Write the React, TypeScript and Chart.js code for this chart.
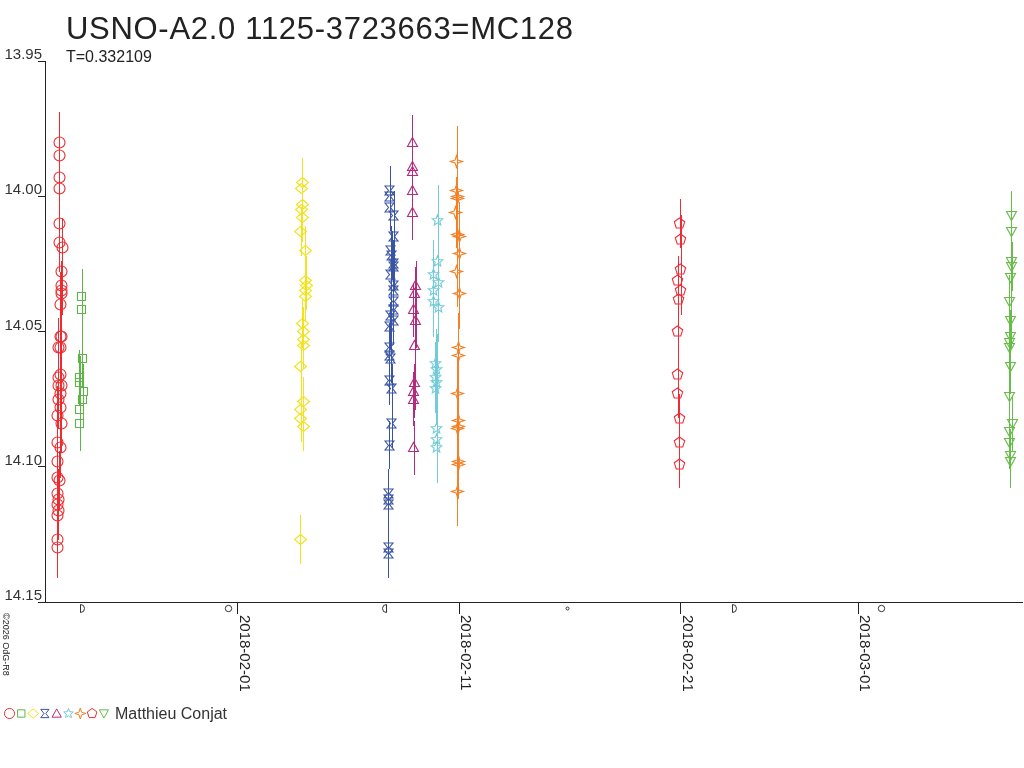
import React, { useEffect, useRef } from "react";
import { Chart, registerables } from "chart.js";

Chart.register(...registerables);

const TITLE = "USNO-A2.0 1125-3723663=MC128";
const SUBTITLE = "T=0.332109";
const OBSERVER = "Matthieu Conjat";
const COPYRIGHT = "©2026 OdG-R8";

// x values: days since 2018-01-01 00:00 UT (Feb 1 = 31)
const X_MIN = 22.284;
const X_MAX = 66.406;
const X_TICK_DAYS = [31, 41, 51, 59];
const X_TICK_LABELS = ["2018-02-01", "2018-02-11", "2018-02-21", "2018-03-01"];
const Y_MIN = 13.95;
const Y_MAX = 14.15;
const Y_TICKS = [13.95, 14.0, 14.05, 14.1, 14.15];

const MOON_DAYS = [23.93, 30.56, 37.66, 45.88, 53.34, 60.04];
const MOON_PHASES = ["first", "full", "last", "new", "first", "full"];

// [day, magnitude, error]
const redCircles: number[][] = [
  [22.932, 13.98, 0.011], [22.932, 13.985, 0.011], [22.932, 13.993, 0.011], [22.932, 13.997, 0.011],
  [22.932, 14.01, 0.011], [22.932, 14.017, 0.011], [23.068, 14.019, 0.011], [23.05, 14.028, 0.012],
  [23.05, 14.033, 0.011], [23.009, 14.035, 0.011], [23.009, 14.036, 0.011], [22.964, 14.04, 0.012],
  [22.964, 14.052, 0.011], [23.009, 14.052, 0.011], [22.874, 14.056, 0.011], [22.964, 14.056, 0.012],
  [22.964, 14.066, 0.011], [22.874, 14.067, 0.011], [23.009, 14.07, 0.012], [22.874, 14.07, 0.011],
  [22.964, 14.073, 0.011], [22.874, 14.075, 0.011], [22.964, 14.078, 0.011], [22.828, 14.081, 0.011],
  [23.009, 14.084, 0.011], [22.828, 14.091, 0.011], [22.964, 14.093, 0.011], [22.828, 14.098, 0.011],
  [22.828, 14.104, 0.011], [22.932, 14.105, 0.011], [22.828, 14.11, 0.011], [22.874, 14.112, 0.011],
  [22.828, 14.114, 0.011], [22.874, 14.116, 0.011], [22.828, 14.118, 0.011], [22.828, 14.127, 0.011],
  [22.828, 14.13, 0.011],
];

const greenSquares: number[][] = [
  [23.941, 14.037, 0.01], [23.941, 14.042, 0.01], [23.968, 14.06, 0.011], [23.832, 14.067, 0.01],
  [23.864, 14.069, 0.01], [24.013, 14.072, 0.01], [23.986, 14.075, 0.01], [23.864, 14.079, 0.01],
  [23.864, 14.084, 0.01],
];

const yellowDiamonds: number[][] = [
  [33.904, 13.995, 0.009], [33.877, 13.997, 0.009], [33.904, 14.003, 0.009], [33.877, 14.005, 0.009],
  [33.904, 14.008, 0.009], [33.845, 14.013, 0.009], [34.026, 14.02, 0.009], [34.057, 14.031, 0.009],
  [34.071, 14.033, 0.009], [34.026, 14.035, 0.009], [34.026, 14.037, 0.009], [33.904, 14.047, 0.009],
  [33.949, 14.05, 0.009], [33.949, 14.053, 0.009], [33.949, 14.055, 0.009], [33.845, 14.063, 0.009],
  [33.949, 14.076, 0.009], [33.83, 14.079, 0.009], [33.83, 14.082, 0.009], [33.949, 14.085, 0.009],
  [33.8, 14.127, 0.009],
];

const blueHourglasses: number[][] = [
  [37.864, 13.998, 0.009], [37.864, 14.0, 0.009], [37.864, 14.004, 0.009], [38.045, 14.007, 0.009],
  [38.045, 14.015, 0.009], [37.896, 14.02, 0.009], [37.941, 14.022, 0.009], [38.013, 14.025, 0.009],
  [38.045, 14.026, 0.009], [37.896, 14.029, 0.009], [38.013, 14.033, 0.009], [38.013, 14.035, 0.009],
  [38.013, 14.039, 0.009], [38.013, 14.042, 0.009], [37.896, 14.044, 0.009], [38.013, 14.046, 0.009],
  [37.864, 14.048, 0.009], [37.833, 14.056, 0.009], [37.833, 14.059, 0.009], [37.896, 14.06, 0.009],
  [37.833, 14.068, 0.009], [37.941, 14.071, 0.009], [37.941, 14.084, 0.009], [37.833, 14.092, 0.009],
  [37.788, 14.11, 0.009], [37.788, 14.112, 0.009], [37.788, 14.114, 0.009], [37.788, 14.13, 0.009],
  [37.788, 14.132, 0.009],
];

const magentaTriangles: number[][] = [
  [38.872, 13.98, 0.01], [38.872, 13.989, 0.01], [38.872, 13.991, 0.01], [38.872, 13.998, 0.01],
  [38.872, 14.006, 0.01], [39.025, 14.033, 0.009], [38.993, 14.036, 0.01], [38.917, 14.042, 0.01],
  [39.025, 14.046, 0.01], [38.993, 14.055, 0.01], [38.993, 14.069, 0.01], [38.948, 14.072, 0.01],
  [38.917, 14.075, 0.01], [38.948, 14.093, 0.01],
];

const cyanStars: number[][] = [
  [40.019, 14.009, 0.013], [40.019, 14.024, 0.013], [39.82, 14.029, 0.013], [40.046, 14.032, 0.013],
  [39.82, 14.035, 0.013], [39.82, 14.039, 0.013], [40.046, 14.041, 0.013], [39.928, 14.062, 0.013],
  [39.974, 14.064, 0.013], [39.897, 14.067, 0.013], [39.974, 14.069, 0.013], [39.928, 14.071, 0.013],
  [39.974, 14.086, 0.013], [39.974, 14.09, 0.013], [39.974, 14.093, 0.013],
];

const orangeStars: number[][] = [
  [40.877, 13.987, 0.013], [40.877, 13.998, 0.013], [40.904, 14.0, 0.013], [40.904, 14.001, 0.013],
  [40.845, 14.006, 0.013], [40.904, 14.014, 0.013], [40.994, 14.015, 0.013], [40.994, 14.021, 0.013],
  [40.877, 14.028, 0.013], [40.994, 14.036, 0.013], [40.949, 14.056, 0.013], [40.949, 14.059, 0.013],
  [40.904, 14.073, 0.013], [40.949, 14.083, 0.013], [40.949, 14.085, 0.013], [40.904, 14.086, 0.013],
  [40.949, 14.098, 0.013], [40.949, 14.099, 0.013], [40.904, 14.109, 0.013],
];

const redPentagons: number[][] = [
  [50.961, 14.01, 0.009], [50.993, 14.016, 0.009], [50.993, 14.027, 0.009], [50.857, 14.031, 0.009],
  [50.993, 14.035, 0.009], [50.884, 14.038, 0.009], [50.857, 14.05, 0.009], [50.857, 14.066, 0.009],
  [50.857, 14.073, 0.009], [50.916, 14.082, 0.009], [50.916, 14.091, 0.009], [50.916, 14.099, 0.009],
];

const greenDownTriangles: number[][] = [
  [65.91, 14.007, 0.009], [65.91, 14.013, 0.009], [65.91, 14.024, 0.009], [65.942, 14.026, 0.009],
  [65.896, 14.03, 0.009], [65.833, 14.039, 0.01], [65.896, 14.046, 0.01], [65.865, 14.052, 0.01],
  [65.819, 14.054, 0.01], [65.819, 14.056, 0.01], [65.865, 14.063, 0.01], [65.819, 14.074, 0.01],
  [65.969, 14.084, 0.01], [65.833, 14.087, 0.01], [65.819, 14.091, 0.01], [65.865, 14.096, 0.01],
  [65.865, 14.098, 0.01],
];

const SERIES = [
  { name: "circle", color: "#ee2b2f", obs: redCircles },
  { name: "square", color: "#5db546", obs: greenSquares },
  { name: "diamond", color: "#f3e21c", obs: yellowDiamonds },
  { name: "hourglass", color: "#3a54a4", obs: blueHourglasses },
  { name: "triangle", color: "#b42a7c", obs: magentaTriangles },
  { name: "star", color: "#72cbd9", obs: cyanStars },
  { name: "star4", color: "#f58025", obs: orangeStars },
  { name: "pentagon", color: "#ee2c36", obs: redPentagons },
  { name: "downtriangle", color: "#66bd47", obs: greenDownTriangles },
];

const FONT = '"Liberation Sans", Arial, Helvetica, sans-serif';
const INK = "#222222";

function poly(ctx: CanvasRenderingContext2D, cx: number, cy: number, pts: number[][]) {
  pts.forEach(([x, y], i) => (i === 0 ? ctx.moveTo(cx + x, cy + y) : ctx.lineTo(cx + x, cy + y)));
  ctx.closePath();
}

function starPts(n: number, outer: number, inner: number, start: number): number[][] {
  const pts: number[][] = [];
  for (let i = 0; i < n * 2; i++) {
    const r = i % 2 === 0 ? outer : inner;
    const a = start + (i * Math.PI) / n;
    pts.push([r * Math.cos(a), r * Math.sin(a)]);
  }
  return pts;
}

function pathMarker(ctx: CanvasRenderingContext2D, kind: string, cx: number, cy: number, k = 1) {
  ctx.beginPath();
  const s = (pts: number[][]) => pts.map(([x, y]) => [x * k, y * k]);
  switch (kind) {
    case "circle":
      ctx.arc(cx, cy, 5.5 * k, 0, Math.PI * 2);
      break;
    case "square":
      ctx.rect(cx - 4 * k, cy - 4 * k, 8 * k, 8 * k);
      break;
    case "diamond":
      poly(ctx, cx, cy, s([[0, -5], [6, 0], [0, 5], [-6, 0]]));
      break;
    case "hourglass":
      poly(ctx, cx, cy, s([[-4.5, -4.5], [4.5, -4.5], [1, 0], [4.5, 4.5], [-4.5, 4.5], [-1, 0]]));
      break;
    case "triangle":
      poly(ctx, cx, cy, s([[0, -5], [5, 4], [-5, 4]]));
      break;
    case "star":
      poly(ctx, cx, cy, s(starPts(5, 5.5, 2.4, -Math.PI / 2)));
      break;
    case "star4":
      poly(ctx, cx, cy, s(starPts(4, 6, 2, -Math.PI / 2)));
      break;
    case "pentagon":
      poly(ctx, cx, cy, s([0, 1, 2, 3, 4].map((i) => {
        const a = -Math.PI / 2 + (i * 2 * Math.PI) / 5;
        return [5.5 * Math.cos(a), 5.5 * Math.sin(a)];
      })));
      break;
    case "downtriangle":
      poly(ctx, cx, cy, s([[-5, -4], [5, -4], [0, 5]]));
      break;
  }
}

function makeMarker(kind: string, color: string): HTMLCanvasElement {
  const c = document.createElement("canvas");
  c.width = 17;
  c.height = 17;
  const ctx = c.getContext("2d")!;
  ctx.strokeStyle = color;
  ctx.lineWidth = 1.1;
  pathMarker(ctx, kind, 8.5, 8.5);
  ctx.stroke();
  return c;
}

const errorBarPlugin = {
  id: "errorBars",
  beforeDatasetsDraw(chart: any) {
    const ctx = chart.ctx;
    const yScale = chart.scales.y;
    ctx.save();
    ctx.lineWidth = 1;
    chart.data.datasets.forEach((ds: any, i: number) => {
      const meta = chart.getDatasetMeta(i);
      ctx.strokeStyle = ds.borderColor;
      meta.data.forEach((pt: any, j: number) => {
        const m = ds.data[j].y;
        const e = ds.errors[j];
        const x = Math.round(pt.x) + 0.5;
        ctx.beginPath();
        ctx.moveTo(x, Math.round(yScale.getPixelForValue(m - e)));
        ctx.lineTo(x, Math.round(yScale.getPixelForValue(m + e)));
        ctx.stroke();
      });
    });
    ctx.restore();
    ctx.imageSmoothingEnabled = false;
  },
  afterDatasetsDraw(chart: any) {
    chart.ctx.imageSmoothingEnabled = true;
  },
};

const decorPlugin = {
  id: "decor",
  afterDraw(chart: any) {
    const ctx: CanvasRenderingContext2D = chart.ctx;
    const xScale = chart.scales.x;
    ctx.save();
    // title
    ctx.fillStyle = INK;
    ctx.textAlign = "left";
    ctx.textBaseline = "alphabetic";
    ctx.font = `31px ${FONT}`;
    (ctx as any).letterSpacing = "0.7px";
    ctx.fillText(TITLE, 66, 39);
    (ctx as any).letterSpacing = "0px";
    ctx.font = `16px ${FONT}`;
    ctx.fillText(SUBTITLE, 66, 62);

    // x tick labels (rotated, reading downward)
    ctx.font = `15px ${FONT}`;
    X_TICK_DAYS.forEach((d, i) => {
      const px = xScale.getPixelForValue(d);
      ctx.save();
      ctx.translate(px + 2, xScale.top + 13);
      ctx.rotate(Math.PI / 2);
      ctx.textBaseline = "alphabetic";
      ctx.fillText(X_TICK_LABELS[i], 0, 0);
      ctx.restore();
    });

    // moon phases
    ctx.strokeStyle = "#333";
    ctx.lineWidth = 1;
    const my = xScale.top + 6.5;
    MOON_DAYS.forEach((d, i) => {
      const px = Math.round(xScale.getPixelForValue(d)) + 0.5;
      const ph = MOON_PHASES[i];
      ctx.beginPath();
      if (ph === "full") {
        ctx.arc(px, my, 3.2, 0, Math.PI * 2);
      } else if (ph === "new") {
        ctx.arc(px, my, 1.5, 0, Math.PI * 2);
      } else if (ph === "first") {
        ctx.moveTo(px - 1, my - 4);
        ctx.lineTo(px - 1, my + 4);
        ctx.arc(px - 1, my, 4, Math.PI / 2, -Math.PI / 2, true);
      } else {
        ctx.moveTo(px + 1, my - 4);
        ctx.lineTo(px + 1, my + 4);
        ctx.arc(px + 1, my, 4, Math.PI / 2, Math.PI * 1.5, false);
      }
      ctx.stroke();
    });

    // copyright
    ctx.save();
    ctx.font = `9px ${FONT}`;
    ctx.translate(2.5, 613);
    ctx.rotate(Math.PI / 2);
    ctx.fillText(COPYRIGHT, 0, 0);
    ctx.restore();

    // legend
    ctx.lineWidth = 1;
    SERIES.forEach((s, i) => {
      ctx.strokeStyle = s.color;
      pathMarker(ctx, s.name, 9.5 + i * 11.8, 713.5, 0.92);
      ctx.stroke();
    });
    ctx.fillStyle = "#333";
    ctx.font = `16px ${FONT}`;
    ctx.fillText(OBSERVER, 115, 719);
    ctx.restore();
  },
};

export default function App() {
  const ref = useRef<HTMLCanvasElement>(null);
  useEffect(() => {
    document.body.style.margin = "0";
    Chart.defaults.font.family = FONT;
    const canvas = ref.current!;
    const datasets = SERIES.map((s) => ({
      label: s.name,
      data: s.obs.map((o) => ({ x: o[0], y: o[1] })),
      errors: s.obs.map((o) => o[2]),
      pointStyle: makeMarker(s.name, s.color),
      pointRadius: 5,
      borderColor: s.color,
      backgroundColor: "transparent",
      clip: false as any,
    }));
    const chart = new Chart(canvas, {
      type: "scatter",
      data: { datasets: datasets as any },
      options: {
        animation: false,
        responsive: false,
        devicePixelRatio: 1,
        layout: { autoPadding: false, padding: { left: 0, top: 61, right: 2, bottom: 0 } },
        plugins: {
          legend: { display: false },
          tooltip: { enabled: false },
          title: { display: false },
        },
        scales: {
          x: {
            type: "linear",
            min: X_MIN,
            max: X_MAX,
            afterBuildTicks: (s: any) => {
              s.ticks = X_TICK_DAYS.map((v) => ({ value: v }));
            },
            ticks: { display: false },
            grid: { drawOnChartArea: false, drawTicks: true, tickLength: 12, color: INK, lineWidth: 1 },
            border: { color: INK, width: 1 },
            afterFit: (s: any) => {
              s.height = 166;
            },
          },
          y: {
            type: "linear",
            reverse: true,
            min: Y_MIN,
            max: Y_MAX,
            afterBuildTicks: (s: any) => {
              s.ticks = Y_TICKS.map((v) => ({ value: v }));
            },
            ticks: {
              color: "#333",
              font: { family: FONT, size: 15 },
              labelOffset: -6,
              padding: -4,
              autoSkip: false,
              callback: (v: any) => Number(v).toFixed(2),
            },
            grid: { drawOnChartArea: false, drawTicks: true, tickLength: 7, color: INK, lineWidth: 1 },
            border: { color: INK, width: 1 },
            afterFit: (s: any) => {
              s.width = 45;
            },
          },
        },
      },
      plugins: [errorBarPlugin, decorPlugin],
    });
    return () => chart.destroy();
  }, []);
  return (
    <div style={{ position: "relative", width: 1024, height: 768, background: "#fff" }}>
      <canvas ref={ref} width={1024} height={768} style={{ display: "block", width: 1024, height: 768 }} />
    </div>
  );
}
